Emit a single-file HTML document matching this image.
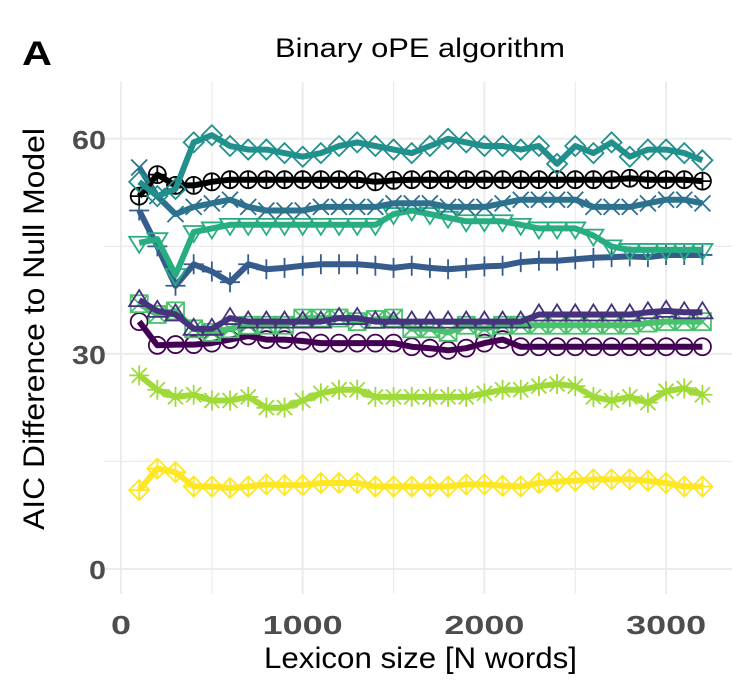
<!DOCTYPE html>
<html><head><meta charset="utf-8"><style>
body{margin:0;background:#fff;}
svg{display:block;font-family:"Liberation Sans",sans-serif;}
</style></head><body>
<svg id="chart" width="748" height="698" viewBox="0 0 748 698">
<text x="22" y="65" font-size="34" font-weight="bold" textLength="30" lengthAdjust="spacingAndGlyphs">A</text>
<text x="275" y="57" font-size="27" textLength="290" lengthAdjust="spacingAndGlyphs">Binary oPE algorithm</text>
<g id="grid"></g><g id="series"></g><g id="axes"></g>
<text x="264" y="668" font-size="30" textLength="313" lengthAdjust="spacingAndGlyphs">Lexicon size [N words]</text>
<text transform="translate(44,530) rotate(-90)" font-size="30" textLength="402" lengthAdjust="spacingAndGlyphs">AIC Difference to Null Model</text>
</svg>
<script>
const xs=[100,200,300,400,500,600,700,800,900,1000,1100,1200,1300,1400,1500,1600,1700,1800,1900,2000,2100,2200,2300,2400,2500,2600,2700,2800,2900,3000,3100,3200];
const tealDiamond=[54,52,53,59.5,60.5,59,58.5,58.5,58,57.5,58,59,59.5,59,58.5,58,59,60,59.5,59,59,58.5,59,56.5,59,58,59.5,57.5,58.5,58.5,58,57];
const blackCross=[52,55,53.5,53.5,54,54.3,54.3,54.3,54.3,54.3,54.3,54.3,54.3,54,54.2,54.3,54.3,54.3,54.3,54.3,54.3,54.3,54.3,54.3,54.3,54.3,54.3,54.5,54.3,54.3,54.3,54.1];
const blueX=[56,52,49.5,50.5,51,51.5,50.5,50,50,50,50.5,50.5,50.5,50.5,51,51,51,50.5,50.5,50.5,51,51.5,51.5,51.5,51.5,50.5,50.5,50.5,51,51.5,51.5,51];
const greenTri=[45.5,46,41,47,47.5,48,48,48,48,48,48,48,48,48,49.5,50,49.5,49,48.5,48.5,48.5,48,47.5,47.5,47.5,46.5,45,44.5,44.5,44.5,44.5,44.5];
const navyPlus=[50,45,39.5,42.5,41.5,40,42.5,41.8,42,42.3,42.5,42.5,42.5,42.3,42,42.3,42,41.8,42,42.2,42.3,42.8,43,43,43.2,43.4,43.5,43.6,43.5,43.8,43.8,43.8];
const purpleTri=[37.5,36,35.5,33.5,33.5,35,34.5,34.5,34.5,34.5,34.5,35,35,34.5,34.5,34.5,34.5,34.5,34.5,34.5,34.5,34.5,35.5,35.5,35.5,35.5,35.5,35.5,35.8,36,35.8,35.8];
const greenSquare=[37,35.5,36,33.5,33,33.5,34,34,34,35,35,35,34.5,34.8,35,33.5,33.5,33,34,33.5,34,34,34,34,34,34,34,34,34.3,34.5,34.5,34.5];
const purpleCircle=[34.5,31.2,31.3,31.3,31.5,32,32.5,32,32,31.8,31.5,31.5,31.5,31.5,31.5,31,30.8,30.5,30.8,31.5,32,31,31,31,31,31,31,31,31,31,31,31];
const limeStar=[27,25,24,24.3,23.5,23.5,24,22.5,22.5,23.5,24.5,25,25,24,24,24,24,24,24,24.5,25,25,25.5,25.8,25.5,24,23.5,24,23.2,24.8,25.2,24.3];
const yellowDiamond=[11,14,13.5,11.5,11.5,11.3,11.5,11.8,11.7,11.7,12,12,12,11.5,11.5,11.5,11.5,11.5,11.8,11.8,11.6,11.5,12,12.2,12.3,12.5,12.5,12.5,12.3,12,11.5,11.5];
const xTicks=[0,1000,2000,3000];
const yTicks=[0,30,60];

const sx=v=>121+v*0.1817;
const sy=v=>569-v*7.17;
const NS="http://www.w3.org/2000/svg";
function mk(tag,attrs,parent){const e=document.createElementNS(NS,tag);for(const k in attrs)e.setAttribute(k,attrs[k]);parent.appendChild(e);return e;}
const grid=document.getElementById('grid'),ser=document.getElementById('series'),ax=document.getElementById('axes');
for(let v=0;v<=3500;v+=500){const l=mk('line',{x1:sx(v),x2:sx(v),y1:82,y2:594,stroke:'#ebebeb','stroke-width':v%1000?1.2:2},grid);

}
for(let v=0;v<=75;v+=15){const y=sy(v);if(y<82)continue;const l=mk('line',{x1:104,x2:732,y1:y,y2:y,stroke:'#ebebeb','stroke-width':v%30?1.2:2},grid);

}
xTicks.forEach(t=>{const s=String(t);const w=s.length*20;const e=mk('text',{x:sx(t)-w/2,y:634,'font-size':26,'font-weight':'bold',fill:'#4d4d4d',textLength:w,lengthAdjust:'spacingAndGlyphs'},ax);e.textContent=s;

});
yTicks.forEach(t=>{const s=String(t);const w=s.length*17;const e=mk('text',{x:106-w,y:sy(t)+10,'font-size':26,'font-weight':'bold',fill:'#4d4d4d',textLength:w,lengthAdjust:'spacingAndGlyphs'},ax);e.textContent=s;

});

const r=10;
function marker(g,type,x,y,c){
 const a={fill:'none',stroke:c,'stroke-width':1.8};
 if(type==='diamond'){mk('polygon',Object.assign({points:`${x},${y-r} ${x+r},${y} ${x},${y+r} ${x-r},${y}`},a),g);}
 if(type==='diamondplus'){mk('polygon',Object.assign({points:`${x},${y-r} ${x+r},${y} ${x},${y+r} ${x-r},${y}`},a),g);mk('path',Object.assign({d:`M${x-r} ${y}H${x+r}M${x} ${y-r}V${y+r}`},a),g);}
 if(type==='circleplus'){mk('circle',Object.assign({cx:x,cy:y,r:8.5},a),g);mk('path',Object.assign({d:`M${x-8.5} ${y}H${x+8.5}M${x} ${y-8.5}V${y+8.5}`},a),g);}
 if(type==='circle'){mk('circle',Object.assign({cx:x,cy:y,r:8.5},a),g);}
 if(type==='x'){mk('path',Object.assign({d:`M${x-8} ${y-8}L${x+8} ${y+8}M${x-8} ${y+8}L${x+8} ${y-8}`},a),g);}
 if(type==='plus'){mk('path',Object.assign({d:`M${x-10} ${y}H${x+10}M${x} ${y-10}V${y+10}`},a),g);}
 if(type==='tridown'){mk('polygon',Object.assign({points:`${x-10},${y-6} ${x+10},${y-6} ${x},${y+10}`},a),g);}
 if(type==='triup'){mk('polygon',Object.assign({points:`${x-10},${y+6} ${x+10},${y+6} ${x},${y-10}`},a),g);}
 if(type==='squarex'){mk('rect',Object.assign({x:x-8.5,y:y-8.5,width:17,height:17},a),g);mk('path',Object.assign({d:`M${x-8.5} ${y-8.5}L${x+8.5} ${y+8.5}M${x-8.5} ${y+8.5}L${x+8.5} ${y-8.5}`},a),g);}
 if(type==='star'){mk('path',Object.assign({d:`M${x-10} ${y}H${x+10}M${x} ${y-10}V${y+10}M${x-7.5} ${y-7.5}L${x+7.5} ${y+7.5}M${x-7.5} ${y+7.5}L${x+7.5} ${y-7.5}`},a),g);}
}
const series=[
 ['yellow-diamond-series',yellowDiamond,'#FDE725','diamondplus'],
 ['lime-star-series',limeStar,'#A0DA39','star'],
 ['purple-circle-series',purpleCircle,'#440154','circle'],
 ['green-square-series',greenSquare,'#4AC16D','squarex'],
 ['purple-triangle-series',purpleTri,'#46337E','triup'],
 ['navy-plus-series',navyPlus,'#365C8D','plus'],
 ['green-triangle-series',greenTri,'#27AD81','tridown'],
 ['blue-x-series',blueX,'#2C728E','x'],
 ['black-cross-series',blackCross,'#000000','circleplus'],
 ['teal-diamond-series',tealDiamond,'#21908C','diamond']];
series.forEach(([name,vals,c,m])=>{
 const g=mk('g',{},ser);
 
 
 const d=vals.map((v,i)=>(i?'L':'M')+sx(xs[i]).toFixed(1)+' '+sy(v).toFixed(1)).join('');
 mk('path',{d:d,fill:'none',stroke:c,'stroke-width':6,'stroke-linejoin':'round'},g);
 vals.forEach((v,i)=>marker(g,m,sx(xs[i]),sy(v),c));
});
</script>
</body></html>
